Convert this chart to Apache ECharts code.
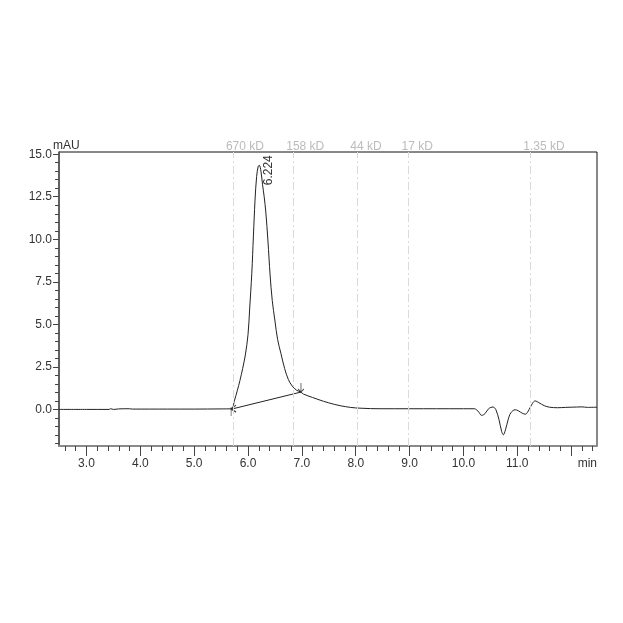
<!DOCTYPE html>
<html><head><meta charset="utf-8">
<script src="https://cdn.jsdelivr.net/npm/echarts@6/dist/echarts.min.js"></script>
<style>html,body{margin:0;padding:0;background:#fff}#c{width:623px;height:623px}</style>
</head><body><div id="c"></div>
<script>
// chromatogram trace (time in min, signal in mAU)
const time = [2.49, 3.0, 3.42, 3.45, 3.5, 3.6, 3.7, 3.8, 3.85, 4.5, 5.0, 5.5, 5.69,
  5.75, 5.8, 5.85, 5.9, 5.95, 6.0, 6.03, 6.07, 6.1, 6.13, 6.16, 6.19, 6.21,
  6.24, 6.27, 6.3, 6.33, 6.37, 6.41, 6.45, 6.5, 6.55, 6.61, 6.68, 6.75, 6.82, 6.9, 6.98,
  7.03, 7.2, 7.4, 7.6, 7.71, 7.9, 8.1, 8.45, 9.0, 10.0, 10.2,
  10.27, 10.34, 10.4, 10.47, 10.55, 10.6, 10.66, 10.71, 10.74, 10.78, 10.83, 10.88, 10.96,
  11.02, 11.09, 11.15, 11.22, 11.28, 11.33, 11.4, 11.5, 11.6, 11.75, 11.9, 12.1, 12.2, 12.3, 12.48];
const signal = [0.0, 0.0, 0.0, 0.04, 0.0, 0.03, 0.04, 0.04, 0.02, 0.02, 0.02, 0.03, 0.04,
  0.55, 1.1, 1.7, 2.4, 3.2, 4.4, 5.9, 8.0, 10.2, 12.3, 13.7, 14.3, 14.35,
  14.0, 13.2, 12.5, 11.6, 9.9, 7.9, 6.4, 5.2, 4.1, 3.3, 2.4, 1.75, 1.38, 1.13, 1.02,
  0.9, 0.7, 0.48, 0.3, 0.22, 0.12, 0.07, 0.04, 0.04, 0.04, 0.04,
  -0.1, -0.35, -0.25, 0.05, 0.14, 0.0, -0.6, -1.3, -1.49, -1.2, -0.6, -0.2, -0.02,
  -0.08, -0.22, -0.28, 0.0, 0.35, 0.5, 0.4, 0.22, 0.13, 0.1, 0.12, 0.14, 0.15, 0.12, 0.13];
// integration baseline
const baseTime = [5.695, 6.983];
const baseSignal = [0.02, 1.02];
// peak annotation
const peakTime = 6.21;
const peakSignal = 14.35;
const peakLabel = '6.224';
// molecular weight markers
const mwTimes = [5.725, 6.84, 8.03, 8.98, 11.24];
const mwLabels = ['670 kD', '158 kD', '44 kD', '17 kD', '1.35 kD'];
// ticks
const yMajor = [0, 2.5, 5, 7.5, 10, 12.5, 15];
const yMinor = [-2, -1.5, -1, -0.5, 0, 0.5, 1, 1.5, 2, 2.5, 3, 3.5, 4, 4.5, 5, 5.5, 6, 6.5, 7, 7.5, 8, 8.5, 9, 9.5, 10, 10.5, 11, 11.5, 12, 12.5, 13, 13.5, 14, 14.5, 15];
const xMajor = [3, 4, 5, 6, 7, 8, 9, 10, 11, 12];
const xLabels = [3, 4, 5, 6, 7, 8, 9, 10, 11];
const xMinor = [];
for (let i = 13; i <= 62; i++) xMinor.push(+(i * 0.2).toFixed(1));

const X_MIN = 2.49, X_MAX = 12.48, Y_MIN = -2.15, Y_MAX = 15.13;
const FONT = 'Liberation Sans';

const chart = echarts.init(document.getElementById('c'), null, {renderer: 'canvas'});
chart.setOption({
  animation: false,
  backgroundColor: '#fff',
  textStyle: {fontFamily: FONT},
  grid: {left: 59, right: 26, top: 152, bottom: 177, show: true, borderColor: '#111', borderWidth: 1, backgroundColor: 'transparent'},
  xAxis: [{
    type: 'value', min: X_MIN, max: X_MAX, position: 'bottom',
    axisLine: {show: true, onZero: false, lineStyle: {color: '#8a8a8a', width: 2}},
    axisTick: {show: true, customValues: xMajor, length: 10, lineStyle: {color: '#444'}},
    axisLabel: {customValues: xLabels, formatter: v => v.toFixed(1), margin: 12, color: '#333', fontSize: 12, fontFamily: FONT},
    splitLine: {show: false},
    name: 'min', nameLocation: 'end', nameGap: 0, nameMoveOverlap: false,
    nameTextStyle: {align: 'right', verticalAlign: 'top', padding: [12, 0, 0, 0], color: '#333', fontSize: 12, fontFamily: FONT}
  }, {
    type: 'value', min: X_MIN, max: X_MAX, position: 'bottom',
    axisLine: {show: false, onZero: false},
    axisTick: {show: true, customValues: xMinor, length: 5, lineStyle: {color: '#444'}},
    axisLabel: {show: false}, splitLine: {show: false}
  }],
  yAxis: [{
    type: 'value', min: Y_MIN, max: Y_MAX, position: 'left',
    axisLine: {show: true, onZero: false, lineStyle: {color: '#555', width: 1.5}},
    axisTick: {show: true, customValues: yMajor, length: 6, lineStyle: {color: '#444'}},
    axisLabel: {customValues: yMajor, formatter: v => v.toFixed(1), margin: 7, color: '#333', fontSize: 12, fontFamily: FONT},
    splitLine: {show: false},
    name: 'mAU', nameLocation: 'end', nameGap: 6, nameMoveOverlap: false,
    nameTextStyle: {align: 'left', verticalAlign: 'middle', padding: [0, 0, 0, -6], color: '#333', fontSize: 12, fontFamily: FONT}
  }, {
    type: 'value', min: Y_MIN, max: Y_MAX, position: 'left',
    axisLine: {show: false, onZero: false},
    axisTick: {show: true, customValues: yMinor, length: 4, lineStyle: {color: '#444'}},
    axisLabel: {show: false}, splitLine: {show: false}
  }],
  series: [{
    type: 'line', name: 'trace', xAxisIndex: 0, yAxisIndex: 0,
    data: time.map((t, i) => [t, signal[i]]),
    showSymbol: false, smooth: 0.35,
    lineStyle: {color: '#222', width: 1},
    markLine: {
      silent: true, symbol: 'none', animation: false,
      lineStyle: {color: '#dadada', type: [8, 3, 2, 3], width: 1},
      label: {show: true, position: 'end', distance: -1, align: 'left', offset: [-7, 0], formatter: p => p.name, color: '#bbb', fontSize: 12, fontFamily: FONT},
      data: mwTimes.map((t, i) => ({xAxis: t, name: mwLabels[i]}))
    },
    markPoint: {
      symbol: 'circle', symbolSize: 1, itemStyle: {color: 'transparent'},
      label: {show: true, formatter: () => peakLabel, rotate: 90, position: 'inside', offset: [-5, 9], color: '#333', fontSize: 12, fontFamily: FONT},
      data: [{coord: [peakTime, peakSignal]}]
    }
  }, {
    type: 'line', name: 'baseline', xAxisIndex: 0, yAxisIndex: 0,
    data: baseTime.map((t, i) => [t, baseSignal[i]]),
    showSymbol: false, lineStyle: {color: '#222', width: 1}
  }, {
    type: 'scatter', xAxisIndex: 0, yAxisIndex: 0,
    data: [[baseTime[0], baseSignal[0]]],
    symbol: 'path://M0,-2 L0,7 M5,-4 L0,0 L5,3', symbolSize: [5, 11], symbolOffset: [2, 1.5],
    itemStyle: {color: 'transparent', borderColor: '#222', borderWidth: 1}
  }, {
    type: 'scatter', xAxisIndex: 0, yAxisIndex: 0,
    data: [[baseTime[1], baseSignal[1]]],
    symbol: 'path://M0,0 L0,9 M-3,6 L0,9 L3,6', symbolSize: [6, 9], symbolOffset: [0, -4.5],
    itemStyle: {color: 'transparent', borderColor: '#222', borderWidth: 1}
  }]
});
</script></body></html>
